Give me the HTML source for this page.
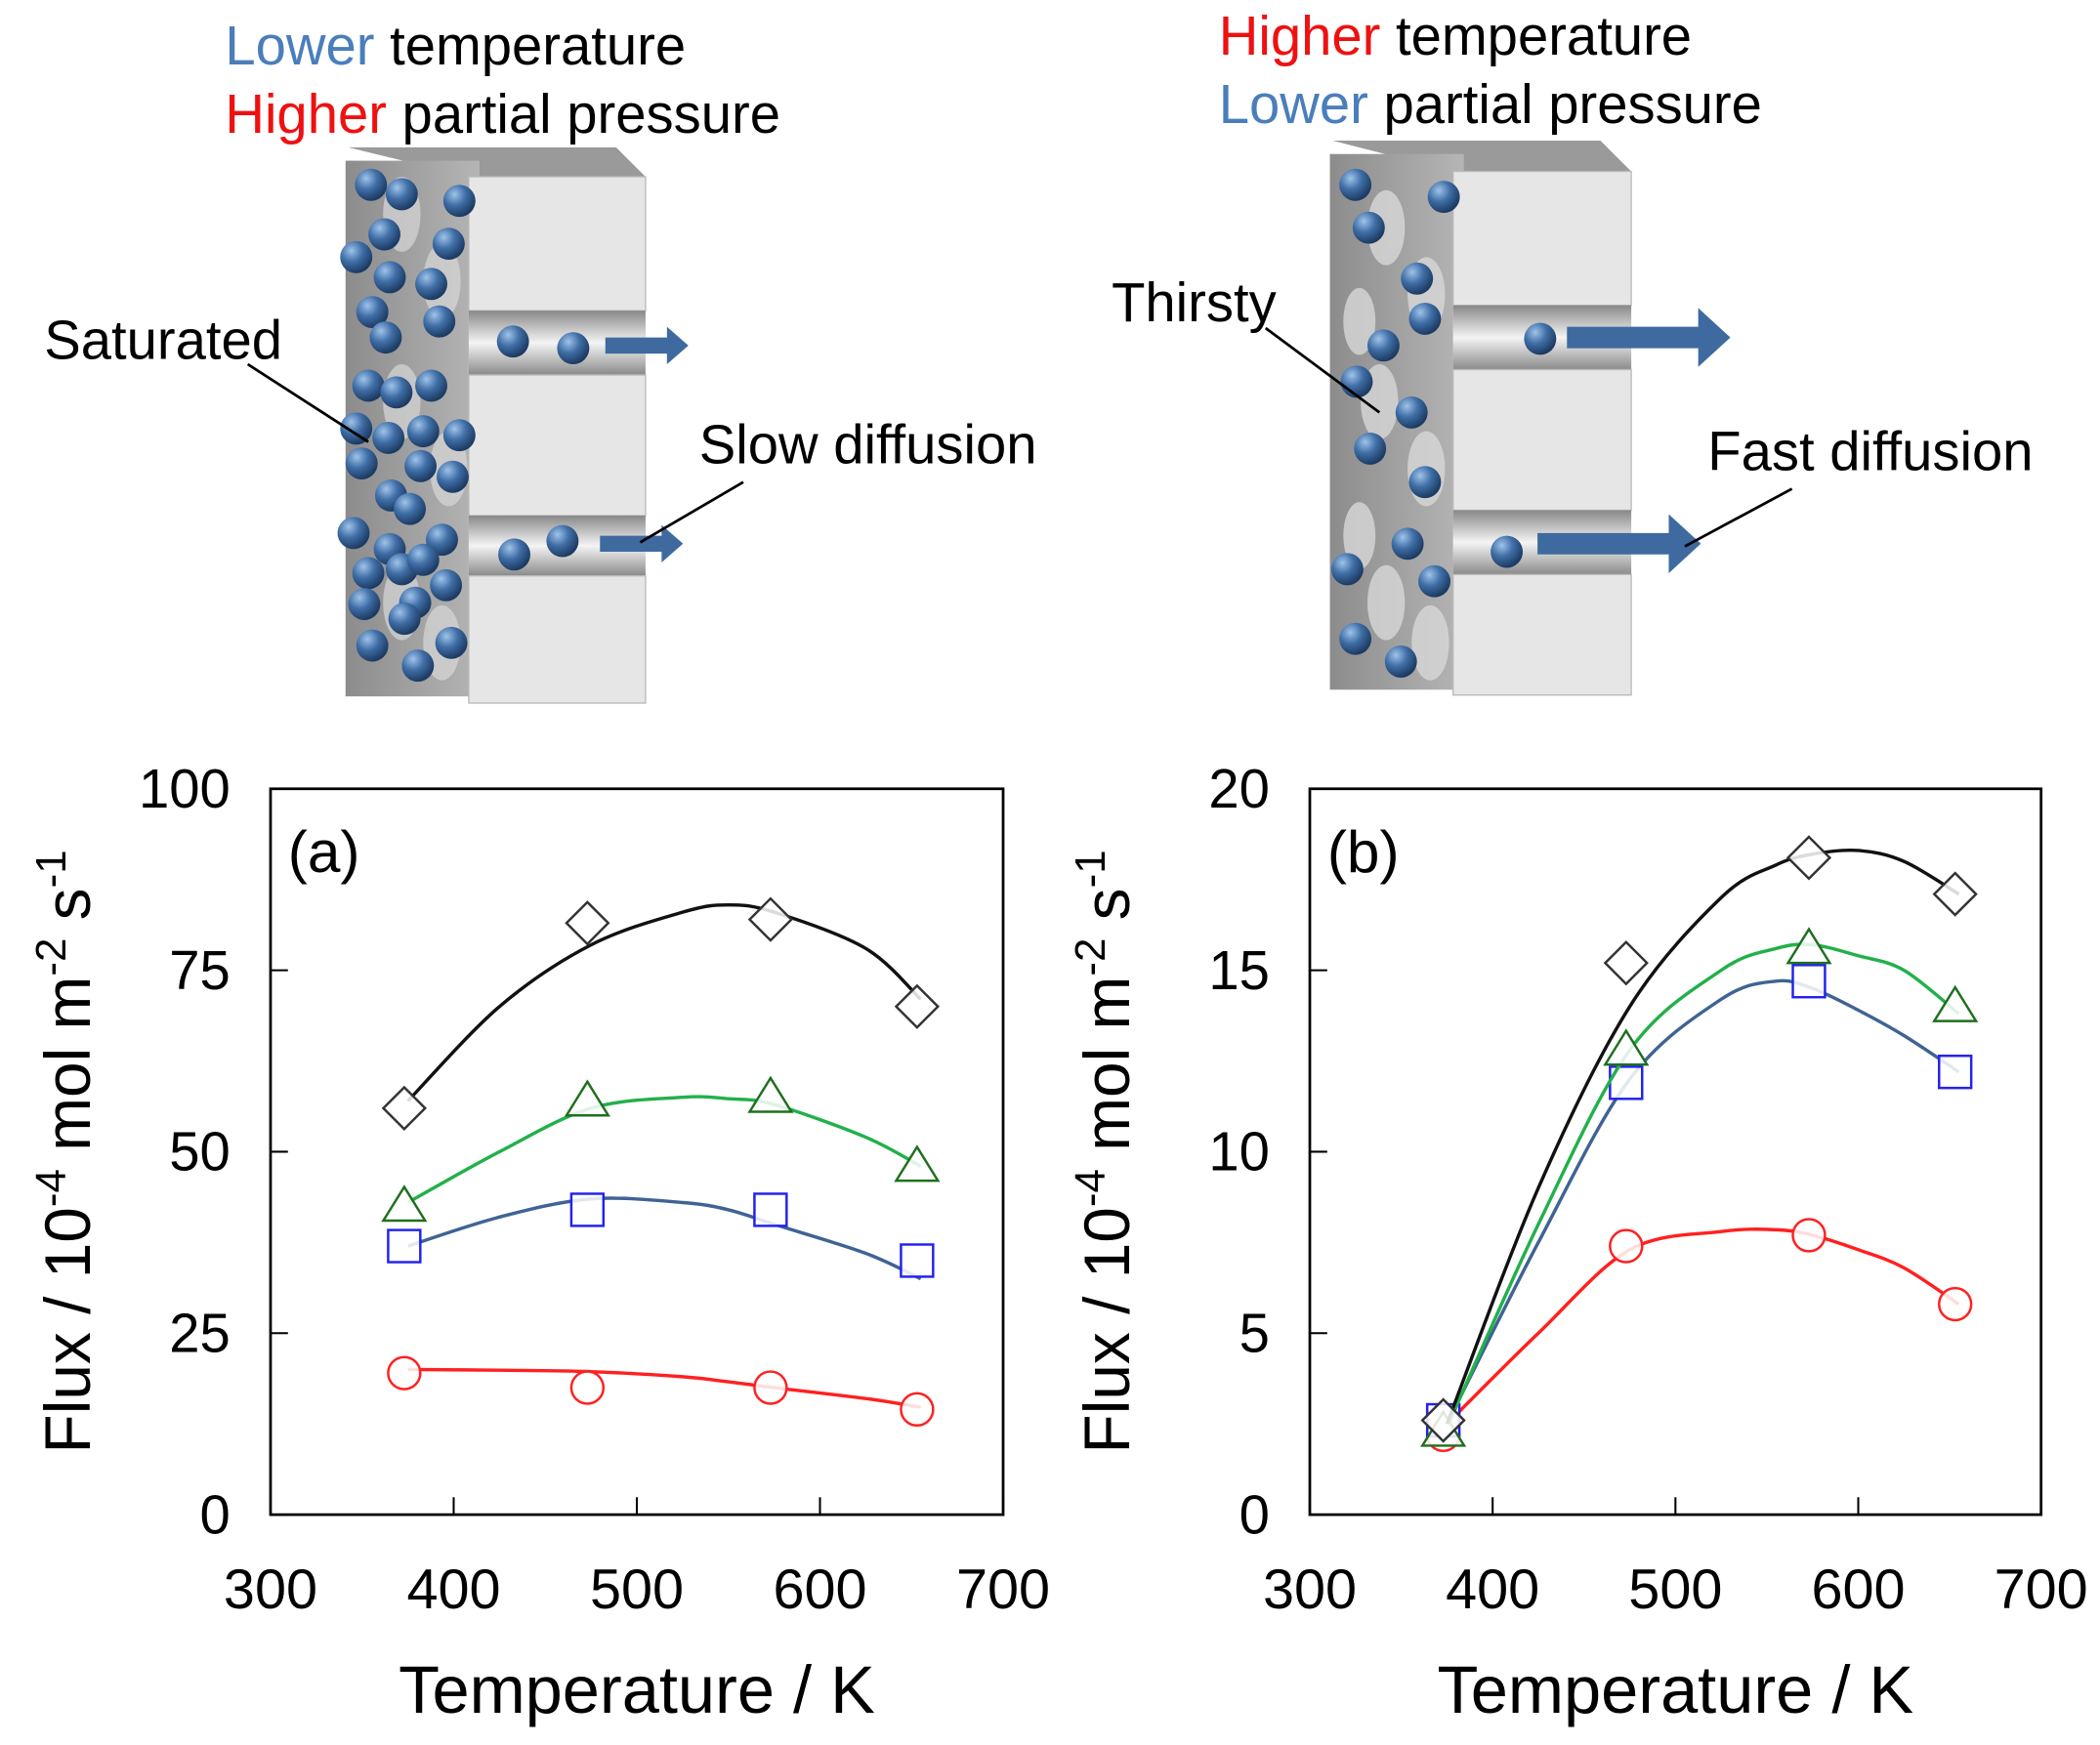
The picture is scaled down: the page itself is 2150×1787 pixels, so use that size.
<!DOCTYPE html>
<html><head><meta charset="utf-8"><style>
html,body{margin:0;padding:0;background:#fff}
svg{display:block}
text{font-family:"Liberation Sans",sans-serif}
</style></head><body>
<svg id="fig" width="2150" height="1787" viewBox="0 0 1568 1303" preserveAspectRatio="none" xmlns="http://www.w3.org/2000/svg">
<defs>
<radialGradient id="ball" cx="0.35" cy="0.3" r="0.7"><stop offset="0" stop-color="#9fc3ea"/><stop offset="0.5" stop-color="#3f6ea6"/><stop offset="1" stop-color="#1d3b63"/></radialGradient>
<linearGradient id="chan" x1="0" y1="0" x2="0" y2="1"><stop offset="0" stop-color="#888"/><stop offset="0.5" stop-color="#f4f4f4"/><stop offset="1" stop-color="#8a8a8a"/></linearGradient>
<linearGradient id="porous" x1="0" y1="0" x2="1" y2="0"><stop offset="0" stop-color="#8c8c8c"/><stop offset="1" stop-color="#b5b5b5"/></linearGradient>
</defs>
<g>
<text x="168" y="48" font-size="41"><tspan fill="#4a7ebb">Lower</tspan> temperature</text>
<text x="168" y="99" font-size="41"><tspan fill="#ee1111">Higher</tspan> partial pressure</text>
<polygon points="260,110 460,110 482,132 350,132" fill="#9a9a9a"/>
<rect x="258" y="120" width="100" height="400" fill="url(#porous)"/>
<rect x="350" y="132" width="132" height="393" fill="#e2e2e2"/>
<rect x="350" y="132" width="132" height="100" fill="#e6e6e6" stroke="#bbb"/>
<rect x="350" y="232" width="132" height="48" fill="url(#chan)"/>
<rect x="350" y="280" width="132" height="105" fill="#e6e6e6" stroke="#bbb"/>
<rect x="350" y="385" width="132" height="45" fill="url(#chan)"/>
<rect x="350" y="430" width="132" height="95" fill="#e6e6e6" stroke="#bbb"/>
<g fill="#d8d8d8" opacity="0.7"><ellipse cx="300" cy="160" rx="14" ry="28"/><ellipse cx="330" cy="210" rx="14" ry="28"/><ellipse cx="300" cy="300" rx="14" ry="28"/><ellipse cx="335" cy="350" rx="14" ry="28"/><ellipse cx="300" cy="450" rx="14" ry="28"/><ellipse cx="330" cy="480" rx="14" ry="28"/></g>
<g id="ballsL"></g>
<polygon points="452,252 498,252 498,244 514,258 498,272 498,264 452,264" fill="#3e6aa0"/>
<polygon points="448,400 494,400 494,392 510,406 494,420 494,412 448,412" fill="#3e6aa0"/>
<text x="33" y="268" font-size="41">Saturated</text>
<line x1="185" y1="272" x2="275" y2="330" stroke="#000" stroke-width="2"/>
<text x="522" y="346" font-size="41">Slow diffusion</text>
<line x1="555" y1="360" x2="478" y2="405" stroke="#000" stroke-width="2"/>
</g>
<g>
<text x="910" y="41" font-size="41"><tspan fill="#ee1111">Higher</tspan> temperature</text>
<text x="910" y="92" font-size="41"><tspan fill="#4a7ebb">Lower</tspan> partial pressure</text>
<polygon points="995,105 1195,105 1218,128 1085,128" fill="#9a9a9a"/>
<rect x="993" y="115" width="100" height="400" fill="url(#porous)"/>
<rect x="1085" y="128" width="133" height="390" fill="#e2e2e2"/>
<rect x="1085" y="128" width="133" height="100" fill="#e6e6e6" stroke="#bbb"/>
<rect x="1085" y="228" width="133" height="48" fill="url(#chan)"/>
<rect x="1085" y="276" width="133" height="105" fill="#e6e6e6" stroke="#bbb"/>
<rect x="1085" y="381" width="133" height="48" fill="url(#chan)"/>
<rect x="1085" y="429" width="133" height="90" fill="#e6e6e6" stroke="#bbb"/>
<g fill="#d8d8d8" opacity="0.8"><ellipse cx="1035" cy="170" rx="14" ry="28"/><ellipse cx="1065" cy="220" rx="14" ry="28"/><ellipse cx="1030" cy="300" rx="14" ry="28"/><ellipse cx="1065" cy="350" rx="14" ry="28"/><ellipse cx="1035" cy="450" rx="14" ry="28"/><ellipse cx="1068" cy="480" rx="14" ry="28"/><ellipse cx="1015" cy="240" rx="12" ry="25"/><ellipse cx="1015" cy="400" rx="12" ry="25"/></g>
<g id="ballsR"></g>
<polygon points="1170,244 1268,244 1268,230 1292,252 1268,274 1268,260 1170,260" fill="#3e6aa0"/>
<polygon points="1148,398 1246,398 1246,384 1270,406 1246,428 1246,414 1148,414" fill="#3e6aa0"/>
<text x="830" y="240" font-size="41">Thirsty</text>
<line x1="945" y1="245" x2="1030" y2="308" stroke="#000" stroke-width="2"/>
<text x="1275" y="351" font-size="41">Fast diffusion</text>
<line x1="1338" y1="365" x2="1258" y2="408" stroke="#000" stroke-width="2"/>
</g>
<g id="chartA"></g>
<g id="chartB"></g>
</svg>
<script>
const NS="http://www.w3.org/2000/svg";
const ballsLeft=[[277,138],[300,145],[343,150],[287,175],[335,182],[266,192],[291,207],[322,212],[278,233],[328,240],[288,252],[383,255],[428,260],[275,288],[296,293],[322,288],[266,320],[290,327],[316,322],[343,325],[270,346],[314,348],[338,356],[292,370],[306,380],[264,398],[291,410],[330,403],[275,428],[300,425],[316,418],[384,414],[420,404],[272,451],[310,450],[333,437],[302,462],[278,482],[312,497],[337,480]];
const ballsRight=[[1012,138],[1078,147],[1022,170],[1058,208],[1064,238],[1033,258],[1150,253],[1013,285],[1054,308],[1023,335],[1064,360],[1051,406],[1125,412],[1006,425],[1071,434],[1012,477],[1046,494]];
function balls(id,arr){const g=document.getElementById(id);arr.forEach(p=>{const c=document.createElementNS(NS,'circle');


c.setAttribute('cx',p[0]);c.setAttribute('cy',p[1]);c.setAttribute('r',12);c.setAttribute('fill','url(#ball)');g.appendChild(c);});}
balls('ballsL',ballsLeft);balls('ballsR',ballsRight);

const temps=[373,473,573,653];
const xTicks=[300,400,500,600,700];
const yTicksA=[0,25,50,75,100];
const yTicksB=[0,5,10,15,20];
const aDiamond=[56,81.5,82,70];
const aTriangle=[42.5,57,57.5,48];
const aSquare=[37,42,42,35];
const aCircle=[19.5,17.5,17.5,14.5];
const bDiamond=[2.6,15.2,18.1,17.1];
const bTriangle=[2.3,12.8,15.6,14];
const bSquare=[2.6,11.9,14.7,12.2];
const bCircle=[2.2,7.4,7.7,5.8];
const fitTempsA=[375,425,475,525,550,575,625,655];
const aFitDiamond=[57,70,78.5,83,84,83,78,71];
const aFitTriangle=[43,50,56,57.5,57.3,56.5,52,48];
const aFitSquare=[37,41,43.5,43,42,40,36,32.5];
const aFitCircle=[20,19.9,19.7,19,18.3,17.5,16,14.8];
const fitTempsB=[375,425,475,525,555,575,600,625,655];
const bFitDiamond=[2.5,9,14,17,17.9,18.2,18.3,18,17.1];
const bFitTriangle=[2.4,8,12.8,15,15.6,15.7,15.4,15,13.8];
const bFitSquare=[2.5,7.5,12,14.2,14.7,14.5,13.9,13.2,12.2];
const bFitCircle=[2.5,5,7.3,7.8,7.85,7.7,7.3,6.8,5.8];

function el(tag,attrs,parent){const e=document.createElementNS(NS,tag);for(const k in attrs)e.setAttribute(k,attrs[k]);parent.appendChild(e);return e;}
function smooth(pts){let d='M'+pts[0][0]+','+pts[0][1];for(let i=0;i<pts.length-1;i++){const p0=pts[i-1]||pts[i],p1=pts[i],p2=pts[i+1],p3=pts[i+2]||p2;
d+=' C'+(p1[0]+(p2[0]-p0[0])/6)+','+(p1[1]+(p2[1]-p0[1])/6)+' '+(p2[0]-(p3[0]-p1[0])/6)+','+(p2[1]-(p3[1]-p1[1])/6)+' '+p2[0]+','+p2[1];}return d;}

function chart(gid,L,R,T,B,yTicks,yMax,label,series){
 const g=document.getElementById(gid);
 const sx=v=>L+(v-300)/400*(R-L), sy=v=>B-v/yMax*(B-T);
 el('rect',{x:L,y:T,width:R-L,height:B-T,fill:'none',stroke:'#000','stroke-width':2,},g);
 xTicks.forEach(t=>{const x=sx(t);
  const l=el('line',{x1:x,x2:x,y1:B,y2:B-13,stroke:'#000','stroke-width':1.5},g);
  
  
  const tx=el('text',{x:x,y:B+70,'font-size':42,'text-anchor':'middle'},g);tx.textContent=t;
  
  });
 yTicks.forEach(t=>{const y=sy(t);
  const l=el('line',{x1:L,x2:L+13,y1:y,y2:y,stroke:'#000','stroke-width':1.5},g);
  
  
  const tx=el('text',{x:L-30,y:y+14,'font-size':41,'text-anchor':'end'},g);tx.textContent=t;
  
  });
 const lab=el('text',{x:L+13,y:T+62,'font-size':44},g);lab.textContent=label;
 
 
 const xt=el('text',{x:(L+R)/2,y:B+148,'font-size':50,'text-anchor':'middle'},g);xt.textContent='Temperature / K';
 
 
 const yt=el('text',{transform:'translate('+(L-135)+','+((T+B)/2+0)+') rotate(-90)','font-size':48,'text-anchor':'middle'},g);
 yt.innerHTML='Flux / 10<tspan dy="-18" font-size="32">-4</tspan><tspan dy="18"> mol m</tspan><tspan dy="-18" font-size="32">-2</tspan><tspan dy="18"> s</tspan><tspan dy="-18" font-size="32">-1</tspan>';
 
 
 series.forEach(s=>{
  const pts=s.fitT.map((t,i)=>[sx(t),sy(s.fit[i])]);
  const p=el('path',{d:smooth(pts),fill:'none',stroke:s.line,'stroke-width':2.5},g);
  
  
  temps.forEach((t,i)=>{const x=sx(t),y=sy(s.vals[i]);let m;const r=12;
   if(s.shape==='diamond')m=el('polygon',{points:`${x},${y-r*1.3} ${x+r*1.3},${y} ${x},${y+r*1.3} ${x-r*1.3},${y}`},g);
   else if(s.shape==='triangle')m=el('polygon',{points:`${x},${y-r*1.2} ${x+r*1.3},${y+r*0.9} ${x-r*1.3},${y+r*0.9}`},g);
   else if(s.shape==='square')m=el('rect',{x:x-r,y:y-r,width:2*r,height:2*r},g);
   else m=el('circle',{cx:x,cy:y,r:r},g);
   m.setAttribute('fill','#fff');m.setAttribute('fill-opacity','0.85');m.setAttribute('stroke',s.mk);m.setAttribute('stroke-width',1.8);
   
   });
 });
}
chart('chartA',202,749,589,1131,yTicksA,100,'(a)',[
 {name:'circle-series',shape:'circle',vals:aCircle,fit:aFitCircle,fitT:fitTempsA,line:'#ff2020',mk:'#ff2020'},
 {name:'square-series',shape:'square',vals:aSquare,fit:aFitSquare,fitT:fitTempsA,line:'#3f6394',mk:'#2222ee'},
 {name:'triangle-series',shape:'triangle',vals:aTriangle,fit:aFitTriangle,fitT:fitTempsA,line:'#22b04a',mk:'#1f6f1f'},
 {name:'diamond-series',shape:'diamond',vals:aDiamond,fit:aFitDiamond,fitT:fitTempsA,line:'#111',mk:'#333'}]);
chart('chartB',978,1524,589,1131,yTicksB,20,'(b)',[
 {name:'circle-series',shape:'circle',vals:bCircle,fit:bFitCircle,fitT:fitTempsB,line:'#ff2020',mk:'#ff2020'},
 {name:'square-series',shape:'square',vals:bSquare,fit:bFitSquare,fitT:fitTempsB,line:'#3f6394',mk:'#2222ee'},
 {name:'triangle-series',shape:'triangle',vals:bTriangle,fit:bFitTriangle,fitT:fitTempsB,line:'#22b04a',mk:'#1f6f1f'},
 {name:'diamond-series',shape:'diamond',vals:bDiamond,fit:bFitDiamond,fitT:fitTempsB,line:'#111',mk:'#333'}]);
</script>
</body></html>
